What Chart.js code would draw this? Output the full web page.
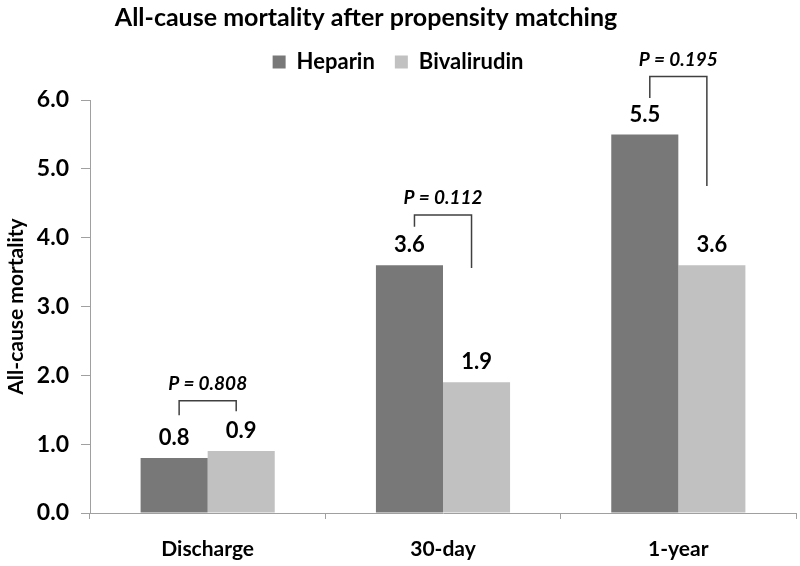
<!DOCTYPE html>
<html>
<head>
<meta charset="utf-8">
<script src="https://cdn.jsdelivr.net/npm/chart.js@4.4.0/dist/chart.umd.min.js"></script>
<style>
  html, body { margin: 0; padding: 0; background: #fff; }
</style>
</head>
<body>
<canvas id="mortalityChart" width="800" height="566"></canvas>
<script>
const categories = ["Discharge", "30-day", "1-year"];
const heparin = [0.8, 3.6, 5.5];
const bivalirudin = [0.9, 1.9, 3.6];
const pLabels = ["P = 0.808", "P = 0.112", "P = 0.195"];
// bracket levels in axis units: top line, left leg end, right leg end
const bracketTop = [1.63, 4.33, 6.34];
const bracketLeft = [1.42, 4.16, 6.03];
const bracketRight = [1.48, 3.56, 4.75];

const FONT = "Lato, 'Open Sans', sans-serif";

const annotations = {
  id: "annotations",
  beforeLayout(chart) {
    // leave some room between legend and plot area
    const lg = chart.legend;
    if (lg && !lg._patched) {
      const fit = lg.fit;
      lg.fit = function () { fit.call(this); this.height += 17; };
      lg._patched = true;
    }
  },
  afterDatasetsDraw(chart) {
    const ctx = chart.ctx;
    const y = chart.scales.y;
    const m0 = chart.getDatasetMeta(0);
    const m1 = chart.getDatasetMeta(1);

    ctx.save();
    // value labels above bars
    ctx.fillStyle = "#000";
    ctx.font = "bold 22px " + FONT;
    ctx.textAlign = "center";
    ctx.textBaseline = "bottom";
    [m0, m1].forEach(meta => {
      meta.data.forEach((bar, i) => {
        const v = chart.data.datasets[meta.index].data[i];
        ctx.fillText(v.toFixed(1), bar.x, bar.y - 9);
      });
    });

    // p-value brackets
    ctx.strokeStyle = "#404040";
    ctx.lineWidth = 1.5;
    ctx.font = "italic bold 19px " + FONT;
    ctx.textBaseline = "middle";
    categories.forEach((c, i) => {
      const xl = m0.data[i].x + 5;
      const xr = m1.data[i].x - 5;
      const yt = y.getPixelForValue(bracketTop[i]);
      ctx.beginPath();
      ctx.moveTo(xl, y.getPixelForValue(bracketLeft[i]));
      ctx.lineTo(xl, yt);
      ctx.lineTo(xr, yt);
      ctx.lineTo(xr, y.getPixelForValue(bracketRight[i]));
      ctx.stroke();
      ctx.fillText(pLabels[i], (xl + xr) / 2, yt - 17);
    });

    // title
    ctx.font = "bold 25px " + FONT;
    ctx.fillText("All-cause mortality after propensity matching", 366, 18);
    ctx.restore();
  }
};

new Chart(document.getElementById("mortalityChart"), {
  type: "bar",
  data: {
    labels: categories,
    datasets: [
      { label: "Heparin", data: heparin, backgroundColor: "#787878", borderWidth: 0 },
      { label: "Bivalirudin", data: bivalirudin, backgroundColor: "#c1c1c1", borderWidth: 0 }
    ]
  },
  options: {
    responsive: false,
    animation: false,
    datasets: { bar: { barPercentage: 1, categoryPercentage: 0.57 } },
    layout: { padding: { top: 31, right: 4, left: 0, bottom: 0 } },
    plugins: {
      title: { display: false },
      tooltip: { enabled: false },
      legend: {
        position: "top",
        labels: {
          boxWidth: 13,
          boxHeight: 13,
          padding: 20,
          color: "#000",
          font: { family: FONT, size: 22, weight: "bold" }
        }
      }
    },
    scales: {
      x: {
        grid: { drawOnChartArea: false, tickLength: 6, color: "#a0a0a0", offset: true },
        border: { color: "#a0a0a0" },
        ticks: { color: "#000", padding: 18, font: { family: FONT, size: 21, weight: "bold" } },
        afterFit: s => { s.height = 53; }
      },
      y: {
        min: 0,
        max: 6,
        grid: { drawOnChartArea: false, tickLength: 9, color: "#a0a0a0" },
        border: { color: "#a0a0a0" },
        ticks: {
          stepSize: 1,
          color: "#000",
          padding: 12,
          font: { family: FONT, size: 23, weight: "bold" },
          callback: v => v.toFixed(1)
        },
        title: {
          display: true,
          text: "All-cause mortality",
          color: "#000",
          font: { family: FONT, size: 21, weight: "bold" },
          padding: { top: 4, bottom: 0 }
        },
        afterFit: s => { s.width = 90; }
      }
    }
  },
  plugins: [annotations]
});
</script>
</body>
</html>
